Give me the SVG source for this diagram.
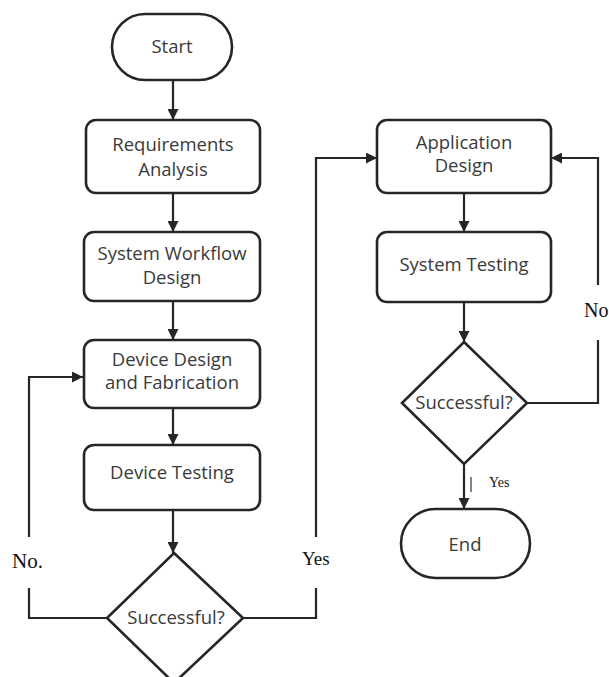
<svg xmlns="http://www.w3.org/2000/svg" width="609" height="677" viewBox="0 0 609 677">
<style>
.shape{fill:#fff;stroke:#262626;stroke-width:2.6}
.t{font-family:"Open Sans","Noto Sans",sans-serif;font-size:18.5px;fill:#3a3a3a;text-anchor:middle}
.s{font-family:"Liberation Serif","Times New Roman",serif;fill:#111}
.c{fill:none;stroke:#262626;stroke-width:2.2}
</style>
<defs>
<marker id="ah" viewBox="0 0 10 10" refX="10" refY="5" markerWidth="5" markerHeight="5" orient="auto" markerUnits="strokeWidth">
<path d="M0,0 L10,5 L0,10 z" fill="#262626"/>
</marker>
</defs>
<rect width="609" height="677" fill="#fff"/>
<g id="connectors">
<path class="c" d="M173,80 V120" marker-end="url(#ah)"/>
<path class="c" d="M173,193 V232" marker-end="url(#ah)"/>
<path class="c" d="M173,301 V340" marker-end="url(#ah)"/>
<path class="c" d="M173,408 V445" marker-end="url(#ah)"/>
<path class="c" d="M173,510 V553" marker-end="url(#ah)"/>
<path class="c" d="M107,618 H29 V588"/>
<path class="c" d="M29,537 V377 H83" marker-end="url(#ah)"/>
<path class="c" d="M243,618 H316 V588"/>
<path class="c" d="M316,537 V158 H377" marker-end="url(#ah)"/>
<path class="c" d="M464,193 V232" marker-end="url(#ah)"/>
<path class="c" d="M464,302 V342" marker-end="url(#ah)"/>
<path class="c" d="M464,464 V509" marker-end="url(#ah)"/>
<path class="c" d="M527,403 H598 V340"/>
<path class="c" d="M598,285 V158 H551" marker-end="url(#ah)"/>
<path d="M471,477 V492" stroke="#333" stroke-width="1.2"/>
<text class="s" x="12" y="568" font-size="21">No.</text>
<text class="s" x="302" y="565" font-size="19">Yes</text>
<text class="s" x="584" y="317" font-size="20">No</text>
<text class="s" x="489" y="487" font-size="14">Yes</text>
</g>
<g id="start">
<rect class="shape" x="112" y="14" width="120" height="66" rx="33"/>
<text class="t" x="172" y="53">Start</text>
</g>
<g id="requirements">
<rect class="shape" x="86" y="120" width="174" height="73" rx="10"/>
<text class="t" x="173" y="151">Requirements</text>
<text class="t" x="173" y="176">Analysis</text>
</g>
<g id="workflow">
<rect class="shape" x="84" y="232" width="176" height="69" rx="10"/>
<text class="t" x="172" y="260">System Workflow</text>
<text class="t" x="172" y="284">Design</text>
</g>
<g id="device-design">
<rect class="shape" x="84" y="340" width="176" height="68" rx="10"/>
<text class="t" x="172" y="366">Device Design</text>
<text class="t" x="172" y="389">and Fabrication</text>
</g>
<g id="device-testing">
<rect class="shape" x="84" y="445" width="176" height="65" rx="10"/>
<text class="t" x="172" y="479">Device Testing</text>
</g>
<g id="decision1">
<path class="shape" d="M174,553 L243,618 L174,683 L107,618 z"/>
<text class="t" x="176" y="624">Successful?</text>
</g>
<g id="app-design">
<rect class="shape" x="377" y="120" width="174" height="73" rx="10"/>
<text class="t" x="464" y="149">Application</text>
<text class="t" x="464" y="172">Design</text>
</g>
<g id="system-testing">
<rect class="shape" x="377" y="232" width="174" height="70" rx="10"/>
<text class="t" x="464" y="271">System Testing</text>
</g>
<g id="decision2">
<path class="shape" d="M464,342 L527,403 L464,464 L402,403 z"/>
<text class="t" x="464" y="409">Successful?</text>
</g>
<g id="end">
<rect class="shape" x="401" y="509" width="129" height="69" rx="34.5"/>
<text class="t" x="465" y="551">End</text>
</g>
</svg>
